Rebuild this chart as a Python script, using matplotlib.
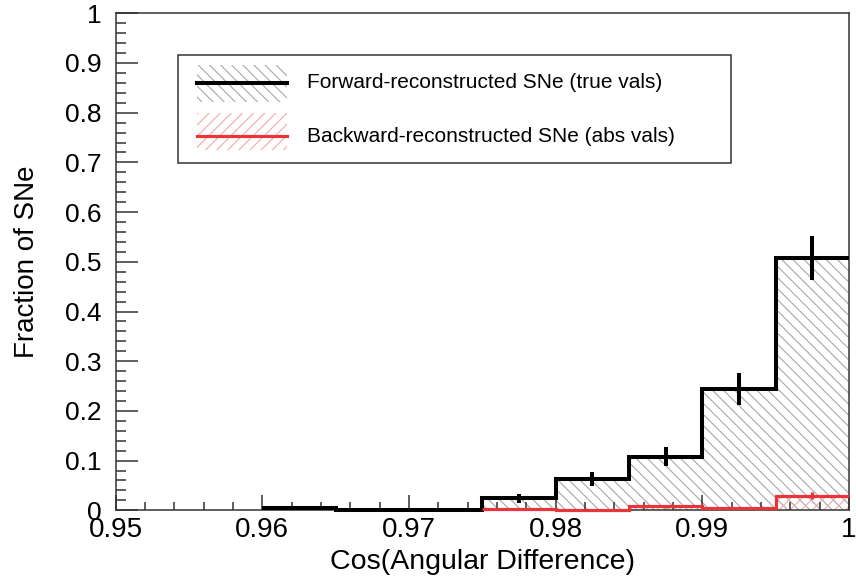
import matplotlib
matplotlib.use("Agg")
import matplotlib.pyplot as plt
from matplotlib.patches import Rectangle
from matplotlib.lines import Line2D
from matplotlib.ticker import MultipleLocator, FuncFormatter
import numpy as np

plt.rcParams["font.family"] = ["Liberation Sans", "DejaVu Sans"]
plt.rcParams["hatch.linewidth"] = 0.8

# Histogram binning in cos(angular difference)
bin_edges = [0.960, 0.965, 0.970, 0.975, 0.980, 0.985, 0.990, 0.995, 1.000]

# Forward-reconstructed SNe (true values)
fwd_frac = [0.004, 0.000, 0.001, 0.024, 0.063, 0.108, 0.244, 0.507]
fwd_err = [0.003, 0.000, 0.002, 0.0095, 0.0145, 0.0195, 0.032, 0.0445]

# Backward-reconstructed SNe (absolute values), starting at 0.975
bwd_edges = [0.975, 0.980, 0.985, 0.990, 0.995, 1.000]
bwd_frac = [0.003, 0.000, 0.008, 0.005, 0.029]
bwd_err = [0.002, 0.000, 0.003, 0.002, 0.007]

legend_labels = ["Forward-reconstructed SNe (true vals)",
                 "Backward-reconstructed SNe (abs vals)"]

BLACK = "#000000"
RED = "#e8353a"
GRAY_HATCH = "#a8a8a8"
RED_HATCH = "#f5a8a8"
FWD_HATCH = "\\" * 3
BWD_HATCH = "/" * 3

fig = plt.figure(figsize=(8.56, 5.87), dpi=100)
ax = fig.add_axes([115.7 / 856, 1 - 510.3 / 587, 733.3 / 856, 497 / 587])

# hatched fills
ax.stairs(fwd_frac, bin_edges, fill=True, facecolor="none", edgecolor=GRAY_HATCH,
          hatch=FWD_HATCH, linewidth=0, zorder=1)
ax.stairs(bwd_frac, bwd_edges, fill=True, facecolor="none", edgecolor=RED_HATCH,
          hatch=BWD_HATCH, linewidth=0, zorder=1.5)

# outlines
ax.stairs(fwd_frac, bin_edges, baseline=None, color=BLACK, linewidth=2.9,
          zorder=3, clip_on=False)
ax.stairs(bwd_frac, bwd_edges, baseline=None, color=RED, linewidth=2.3,
          zorder=4, clip_on=False)

# error bars at bin centres
fwd_centres = 0.5 * (np.array(bin_edges[:-1]) + np.array(bin_edges[1:]))
bwd_centres = 0.5 * (np.array(bwd_edges[:-1]) + np.array(bwd_edges[1:]))
ax.errorbar(fwd_centres, fwd_frac, yerr=fwd_err, fmt="none", ecolor=BLACK,
            elinewidth=2.9, capsize=0, zorder=3)
ax.errorbar(bwd_centres, bwd_frac, yerr=bwd_err, fmt="none", ecolor=RED,
            elinewidth=2.3, capsize=0, zorder=4)

ax.set_xlim(0.95, 1.0)
ax.set_ylim(0, 1)

ax.xaxis.set_major_locator(MultipleLocator(0.01))
ax.xaxis.set_minor_locator(MultipleLocator(0.002))
ax.yaxis.set_major_locator(MultipleLocator(0.1))
ax.yaxis.set_minor_locator(MultipleLocator(0.02))
fmt = FuncFormatter(lambda v, p: "%g" % round(v, 4))
ax.xaxis.set_major_formatter(fmt)
ax.yaxis.set_major_formatter(fmt)

ax.tick_params(axis="x", which="major", direction="in", length=10.5, width=1.1,
               labelsize=20, pad=5, color="#333333")
ax.tick_params(axis="x", which="minor", direction="in", length=5.8, width=1.1,
               color="#333333")
ax.tick_params(axis="y", which="major", direction="in", length=15.8, width=1.1,
               labelsize=19, pad=10, color="#333333")
ax.tick_params(axis="y", which="minor", direction="in", length=7.5, width=1.1,
               color="#333333")
for s in ax.spines.values():
    s.set_color("#333333")
    s.set_linewidth(1.1)

ax.set_xlabel("Cos(Angular Difference)", fontsize=20.5)
ax.set_ylabel("Fraction of SNe", fontsize=20)
ax.xaxis.set_label_coords(0.5, -0.078)
ax.yaxis.set_label_coords(-0.103, 0.5)

# legend box
tr = ax.transAxes
ax.add_patch(Rectangle((0.085, 0.699), 0.754, 0.217, transform=tr,
                       facecolor="white", edgecolor="#333333", linewidth=1.1,
                       zorder=6))
entries = [(0.8215, 0.0745, 0.860, BLACK, 2.9, GRAY_HATCH, FWD_HATCH),
           (0.7245, 0.0745, 0.753, RED, 2.3, RED_HATCH, BWD_HATCH)]
for (y0, h, yl, lc, lw, hc, hp), lab in zip(entries, legend_labels):
    ax.add_patch(Rectangle((0.111, y0), 0.123, h, transform=tr, facecolor="none",
                           edgecolor=hc, hatch=hp, linewidth=0, zorder=7))
    ax.add_line(Line2D([0.111, 0.234], [yl, yl], transform=tr, color=lc,
                       linewidth=lw, zorder=8))
    ax.text(0.261, yl, lab, transform=tr, fontsize=15, va="center", ha="left",
            zorder=8)

fig.savefig("out.png", dpi=100)
